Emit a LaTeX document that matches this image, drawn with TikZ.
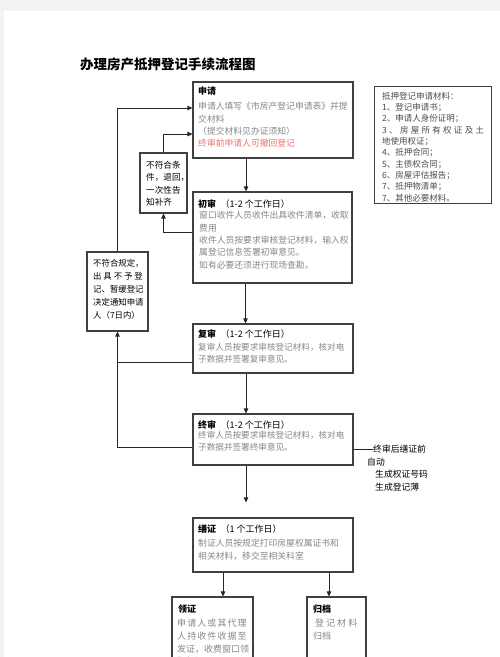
\documentclass[tikz,border=0pt]{standalone}
\usepackage{fontspec}
\newfontfamily\cjk{Noto Sans CJK SC}
\usetikzlibrary{arrows.meta}

\definecolor{pagegray}{RGB}{243,243,243}
\definecolor{bodygray}{RGB}{135,135,135}
\definecolor{warnred}{RGB}{236,112,112}

\tikzset{
  box/.style={draw=black!75, line width=1.2pt, inner sep=0pt},
  head/.style={anchor=north west, inner sep=0pt, font=\cjk\fontsize{9}{11}\selectfont},
  body/.style={anchor=north west, align=left, inner sep=0pt, text=bodygray,
    font=\cjk\fontsize{8.8}{12.4}\selectfont},
  side/.style={anchor=north west, align=left, inner sep=0pt,
    font=\cjk\fontsize{8.6}{12.4}\selectfont},
  link/.style={line width=1pt, draw=black!85},
  arr/.style={link, -{Triangle[length=5pt,width=4.5pt]}},
}

\begin{document}
\begin{tikzpicture}[x=1pt,y=-1pt]
    \useasboundingbox (0,0) rectangle (500,657);
    % Page
    \fill[pagegray] (0,0) rectangle (500,657);
    \fill[white] (4,11) rectangle (500,670);

    % Title
    \node[anchor=west, inner sep=0pt, font=\cjk\bfseries\fontsize{13.5}{15}\selectfont] (title) at (80,64) {办理房产抵押登记手续流程图};

    % Main column
    \node[box, minimum width=160, minimum height=76] (shen) at (273,120) {};
    \node[head] (shenH) at (198,87) {\bfseries 申请};
    \node[body] (shenT) at (198,102) {申请人填写《市房产登记申请表》并提\\交材料\\（提交材料见办证须知）\\\textcolor{warnred}{终审前申请人可撤回登记}};

    \node[box, minimum width=159, minimum height=91] (chu) at (272.5,237.5) {};
    \node[head] (chuH) at (198,199) {\textbf{初审}\enspace（1-2 个工作日）};
    \node[body] (chuT) at (199,211) {窗口收件人员收件出具收件清单，收取\\费用\\收件人员按要求审核登记材料，输入权\\属登记信息签署初审意见。\\如有必要还须进行现场查勘。};

    \node[box, minimum width=160, minimum height=49] (fu) at (273,348.5) {};
    \node[head] (fuH) at (198,329) {\textbf{复审}\enspace（1-2 个工作日）};
    \node[body, font=\cjk\fontsize{8.6}{11.6}\selectfont] (fuT) at (198,343) {复审人员按要求审核登记材料，核对电\\子数据并签署复审意见。};

    \node[box, minimum width=160, minimum height=51] (zhong) at (273,439.5) {};
    \node[head] (zhongH) at (198,420) {\textbf{终审}\enspace（1-2 个工作日）};
    \node[body, font=\cjk\fontsize{8.6}{11.6}\selectfont] (zhongT) at (198,431) {终审人员按要求审核登记材料，核对电\\子数据并签署终审意见。};

    \node[box, minimum width=160, minimum height=54] (shan) at (273,545) {};
    \node[head] (shanH) at (198,525) {\textbf{缮证}\enspace（1 个工作日）};
    \node[body] (shanT) at (198,539) {制证人员按规定打印房屋权属证书和\\相关材料，移交至相关科室};

    % Bottom boxes
    \node[box, minimum width=81, minimum height=83] (ling) at (212.5,638.5) {};
    \node[head] (lingH) at (178,605) {\bfseries 领证};
    \node[body, font=\cjk\fontsize{9}{12.7}\selectfont] (lingT) at (177,619) {{\addfontfeature{LetterSpace=12}申请人或其代理}\\{\addfontfeature{LetterSpace=12}人持收件收据至}\\发证，收费窗口领\\取权证。};

    \node[box, minimum width=59, minimum height=83] (gui) at (336.5,638.5) {};
    \node[head] (guiH) at (313,605) {\bfseries 归档};
    \node[body, font=\cjk\fontsize{9}{12.7}\selectfont] (guiT) at (313,619) {\ 登\ 记\ 材\ 料\\归档};

    % Materials list
    \node[box, line width=0.8pt, minimum width=117, minimum height=117] (cail) at (432.5,144.5) {};
    \node[body, text=black!70, font=\cjk\fontsize{8.5}{11.3}\selectfont] (cailT) at (382,92) {抵押登记申请材料：\\1、登记申请书；\\2、申请人身份证明；\\{\addfontfeature{LetterSpace=27}3、房屋所有权证及土}\\地使用权证；\\4、抵押合同；\\5、主债权合同；\\6、房屋评估报告；\\7、抵押物清单；\\7、其他必要材料。};

    % Return boxes
    \node[box, minimum width=47, minimum height=60] (buhe1) at (163.5,183) {};
    \node[side] (buhe1T) at (146,161) {不符合条\\件，退回，\\一次性告\\知补齐};

    \node[box, minimum width=61, minimum height=79] (buhe2) at (117.5,291.5) {};
    \node[side, font=\cjk\fontsize{8.4}{13}\selectfont] (buhe2T) at (93,259) {不符合规定，\\出 具 不 予 登\\记、暂缓登记\\决定通知申请\\人（7日内）};

    % Side note
    \node[anchor=west, inner sep=0pt, font=\cjk\fontsize{8.8}{11}\selectfont] (note1) at (373,449) {终审后缮证前};
    \node[anchor=west, inner sep=0pt, font=\cjk\fontsize{8.8}{11}\selectfont] (note2) at (367,462) {自动};
    \node[anchor=west, inner sep=0pt, font=\cjk\fontsize{8.8}{11}\selectfont] (note3) at (375,474) {生成权证号码};
    \node[anchor=west, inner sep=0pt, font=\cjk\fontsize{8.8}{11}\selectfont] (note4) at (375,487) {生成登记薄};

    % Main arrows
    \draw[arr] ([xshift=-27pt]shen.south) -- ([xshift=-27pt]shen.south |- chu.north);
    \draw[arr] ([xshift=-27pt]chu.south) -- ([xshift=-27pt]chu.south |- fu.north);
    \draw[arr] ([xshift=-27pt]fu.south) -- ([xshift=-27pt]fu.south |- zhong.north);
    \draw[arr, shorten >=15pt] ([xshift=-27pt]zhong.south) -- ([xshift=-27pt]zhong.south |- shan.north);
    \draw[arr] ([xshift=-50pt]shan.south) -- ([xshift=-50pt]shan.south |- ling.north);
    \draw[arr] ([xshift=56pt]shan.south) -- ([xshift=56pt]shan.south |- gui.north);

    % Return arrows
    \draw[arr] ([yshift=5.5pt]chu.west) -| (buhe1.south);
    \draw[arr] (buhe1.north) |- ([yshift=-14pt]shen.west);
    \draw[arr] ([yshift=-7.5pt]zhong.west) -| (buhe2.south);
    \draw[link] ([yshift=-13.5pt]fu.west) -- ([yshift=-13.5pt]fu.west -| buhe2.south);
    \draw[arr] (buhe2.north) |- ([yshift=12pt]shen.west);

    % Note line
    \draw[link] ([yshift=-9.5pt]zhong.east) -- (note1.west);
\end{tikzpicture}
\end{document}
